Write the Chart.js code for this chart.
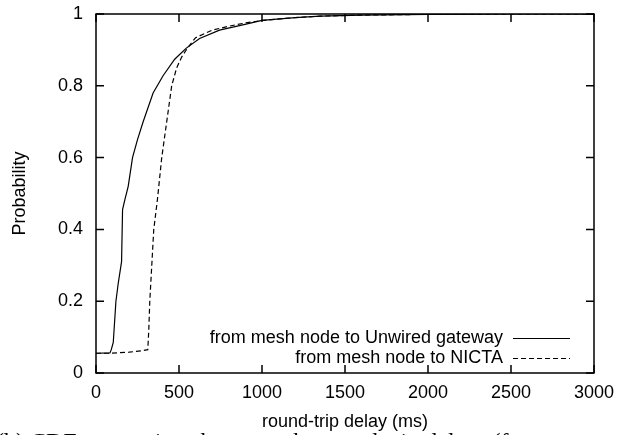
<!DOCTYPE html>
<html>
<head>
<meta charset="utf-8">
<script src="https://cdn.jsdelivr.net/npm/chart.js@4/dist/chart.umd.min.js"></script>
<style>
  html, body { margin: 0; padding: 0; background: #fff; }
  #wrap { width: 627px; height: 435px; position: relative; }
</style>
</head>
<body>
<div id="wrap"><canvas id="chart"></canvas></div>
<script>
// round-trip delay (ms) -> cumulative probability
const unwiredDelay = [0, 84, 92, 104, 120, 134, 154, 160, 174, 194, 220, 250, 284, 344, 404, 474, 544, 624, 744, 904, 1000, 1200, 1350, 1600, 2000, 2500, 3000]
const unwiredProb  = [0.055, 0.056, 0.065, 0.085, 0.2, 0.25, 0.31, 0.455, 0.483, 0.52, 0.6, 0.65, 0.7, 0.78, 0.828, 0.874, 0.905, 0.932, 0.955, 0.972, 0.982, 0.99, 0.994, 0.997, 0.999, 1, 1]

const nictaDelay = [0, 84, 200, 280, 312, 318, 324, 348, 370, 396, 426, 456, 486, 516, 552, 600, 700, 800, 900, 1000, 1200, 1350, 1600, 2000, 2500, 3000]
const nictaProb  = [0.055, 0.055, 0.058, 0.062, 0.065, 0.12, 0.2, 0.4, 0.483, 0.6, 0.7, 0.8, 0.85, 0.88, 0.906, 0.934, 0.955, 0.966, 0.975, 0.982, 0.99, 0.994, 0.997, 0.999, 1, 1]

const seriesLabels = ['from mesh node to Unwired gateway', 'from mesh node to NICTA']
const xTicks = [0, 500, 1000, 1500, 2000, 2500, 3000]
const yTicks = [0, 0.2, 0.4, 0.6, 0.8, 1]
const caption = '(b) CDF comparison between the round-trip delays (from'

const FONT = 'Liberation Sans, Arial, Helvetica, sans-serif'

function pts (xs, ys) {
  return xs.map((x, i) => ({ x: x, y: ys[i] }))
}

// gnuplot style box with inward ticks, plus the line-sample key
const framePlugin = {
  id: 'frame',
  afterDatasetsDraw (chart) {
    const { ctx, chartArea: a, scales } = chart
    const t = 8
    ctx.save()
    ctx.strokeStyle = '#000'
    ctx.lineWidth = 1.5
    ctx.strokeRect(a.left, a.top, a.right - a.left, a.bottom - a.top)
    ctx.beginPath()
    xTicks.forEach(v => {
      const px = scales.x.getPixelForValue(v)
      ctx.moveTo(px, a.bottom); ctx.lineTo(px, a.bottom - t)
      ctx.moveTo(px, a.top); ctx.lineTo(px, a.top + t)
    })
    yTicks.forEach(v => {
      const py = scales.y.getPixelForValue(v)
      ctx.moveTo(a.left, py); ctx.lineTo(a.left + t, py)
      ctx.moveTo(a.right, py); ctx.lineTo(a.right - t, py)
    })
    ctx.stroke()

    // key, bottom right
    ctx.font = '18px ' + FONT
    ctx.fillStyle = '#000'
    ctx.textAlign = 'right'
    ctx.textBaseline = 'middle'
    chart.data.datasets.forEach((ds, i) => {
      const y = Math.round(a.bottom - 35 + i * 19.5) + 0.5
      const tx = a.right - 91
      ctx.fillText(ds.label, tx, y)
      ctx.beginPath()
      ctx.lineWidth = 1.2
      ctx.setLineDash(ds.borderDash || [])
      ctx.moveTo(tx + 10, y)
      ctx.lineTo(tx + 67, y)
      ctx.stroke()
    })
    ctx.setLineDash([])

    // figure caption, cut by the page edge
    ctx.font = '24px Liberation Serif, serif'
    ctx.textAlign = 'left'
    ctx.textBaseline = 'alphabetic'
    ctx.fillText(caption, -4, chart.height + 14)
    ctx.restore()
  }
}

const ctx = document.getElementById('chart').getContext('2d')

const chart = new Chart(ctx, {
  type: 'line',
  data: {
    datasets: [
      {
        label: seriesLabels[0],
        data: pts(unwiredDelay, unwiredProb),
        borderColor: '#000',
        borderWidth: 1.2,
        pointRadius: 0,
        tension: 0
      },
      {
        label: seriesLabels[1],
        data: pts(nictaDelay, nictaProb),
        borderColor: '#000',
        borderWidth: 1.2,
        borderDash: [5, 3],
        pointRadius: 0,
        tension: 0
      }
    ]
  },
  options: {
    responsive: true,
    maintainAspectRatio: false,
    animation: false,
    layout: { padding: { top: 14, right: 33, left: 0, bottom: 0 } },
    plugins: {
      legend: { display: false },
      tooltip: { enabled: false }
    },
    scales: {
      x: {
        type: 'linear',
        min: 0,
        max: 3000,
        border: { display: false },
        grid: { display: false, drawTicks: false },
        afterBuildTicks: s => { s.ticks = xTicks.map(v => ({ value: v })) },
        afterFit: s => { s.height = 62; s.paddingLeft = 0; s.paddingRight = 0 },
        ticks: {
          padding: 9,
          color: '#000',
          maxRotation: 0,
          font: { size: 18, family: FONT },
          callback: v => String(v)
        },
        title: {
          display: true,
          text: 'round-trip delay (ms)',
          color: '#000',
          padding: { top: 0, bottom: 2 },
          font: { size: 18, family: FONT }
        }
      },
      y: {
        min: 0,
        max: 1,
        border: { display: false },
        grid: { display: false, drawTicks: false },
        afterBuildTicks: s => { s.ticks = yTicks.map(v => ({ value: v })) },
        afterFit: s => { s.width = 96; s.paddingTop = 0; s.paddingBottom = 0 },
        ticks: {
          padding: 13,
          color: '#000',
          font: { size: 18, family: FONT },
          callback: v => String(v)
        },
        title: {
          display: true,
          text: 'Probability',
          color: '#000',
          padding: { top: 9, bottom: 0 },
          font: { size: 18, family: FONT }
        }
      }
    }
  },
  plugins: [framePlugin]
})
</script>
</body>
</html>
